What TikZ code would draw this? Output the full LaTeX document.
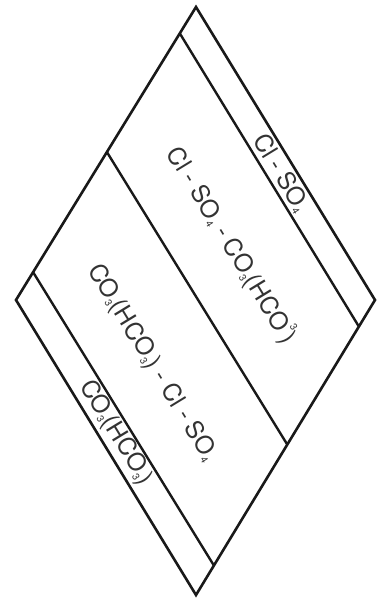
\documentclass[tikz,border=0pt]{standalone}
\usepackage{fontspec}
\setmainfont{TeX Gyre Heros}
\usetikzlibrary{calc}

% small indices as printed in the chart
\newcommand{\ionsub}[1]{\raisebox{-0.12em}{\fontsize{10}{10}\selectfont #1}}
\newcommand{\ionsup}[1]{\raisebox{0.62em}{\fontsize{10}{10}\selectfont #1}}

\begin{document}
\begin{tikzpicture}[
    x=1pt, y=-1pt,
    font=\fontsize{24.5}{27}\selectfont,
    rimline/.style={draw=black!90, line width=2.6pt, line join=miter},
    zoneline/.style={draw=black!90, line width=2.4pt},
    zonetext/.style={rotate=-58.6, inner sep=0pt, text=black!80}
]
\useasboundingbox (0,0) rectangle (376,600);

% corners of the rhombus
\coordinate (top)    at (196,7);
\coordinate (right)  at (375,300);
\coordinate (bottom) at (196,595);
\coordinate (left)   at (16,300);

\draw[rimline] (top) -- (right) -- (bottom) -- (left) -- cycle;

% dividing lines, parallel to the upper right side
\coordinate (zoneA_in)  at ($(top)!0.09!(left)$);
\coordinate (zoneA_out) at ($(right)!0.09!(bottom)$);
\coordinate (zoneB_in)  at ($(top)!0.495!(left)$);
\coordinate (zoneB_out) at ($(right)!0.49!(bottom)$);
\coordinate (zoneC_in)  at ($(top)!0.905!(left)$);
\coordinate (zoneC_out) at ($(right)!0.9!(bottom)$);

\draw[zoneline] (zoneA_in) -- (zoneA_out);
\draw[zoneline] (zoneB_in) -- (zoneB_out);
\draw[zoneline] (zoneC_in) -- (zoneC_out);

% water types
\node[zonetext] (clso)  at (281,173) {Cl - SO\ionsub{4}};
\node[zonetext] (mixcl) at (232,245) {Cl - SO\ionsub{4} - CO\ionsub{3}(HCO\ionsup{3})};
\node[zonetext] (mixco) at (152,363) {CO\ionsub{3}(HCO\ionsub{3}) - Cl - SO\ionsub{4}};
\node[zonetext] (coco)  at (116,433) {CO\ionsub{3}(HCO\ionsub{3})};

\end{tikzpicture}
\end{document}
